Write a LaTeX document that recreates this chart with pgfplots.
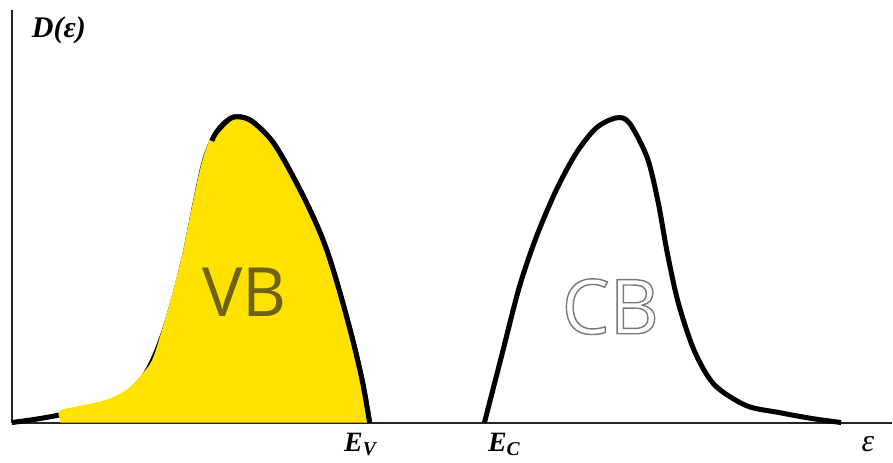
\documentclass[border=0pt]{standalone}
\usepackage{pgfplots}
\pgfplotsset{compat=1.18}
\usepackage{fontspec}
\setmainfont{Liberation Serif}
\newfontfamily\handfont{Open Sans}
\definecolor{vbyellow}{RGB}{255,226,0}
\definecolor{vbink}{RGB}{110,98,20}
\definecolor{cbink}{RGB}{120,120,120}
% outlined (hollow) lettering
\newcommand{\outlined}[1]{\special{pdf:code q 1 Tr 0.7 w}#1\special{pdf:code Q}}

\begin{document}
\begin{tikzpicture}
\begin{axis}[
  x=0.5pt, y=0.5pt,
  xmin=0, xmax=881, ymin=0, ymax=413,
  axis lines=left,
  axis line style={-, line width=1pt, black!85},
  ticks=none,
  clip=false,
]
% page extent
\path (axis cs:-12,-34) rectangle (axis cs:881,423);

% valence band outline (full)
\addplot[black, line width=2.5pt, smooth, tension=0.55] coordinates {
  (0,0) (28,4) (55,9) (88,16) (113,26) (135,51) (151,88) (163,128)
  (173,168) (183,218) (193,263) (205,291) (218,304) (228,306) (241,301)
  (261,281) (281,247) (301,207) (315,173) (328,131) (341,83) (351,40) (358,0)
};

% filled valence band
\addplot[fill=vbyellow, draw=none, smooth, tension=0.55] coordinates {
  (48,4) (48,12) (70,17) (95,23) (115,33) (128,46) (140,62) (150,92)
  (160,127) (170,166) (180,215) (190,260) (200,287) (212,300) (226,304)
  (240,299) (260,281) (280,248) (300,208) (314,174) (327,132) (340,84)
  (350,41) (356,4)
} \closedcycle;

% top and right flank of the valence band drawn over the fill
\addplot[black, line width=2.5pt, smooth, tension=0.55] coordinates {
  (200,282) (205,291) (218,304) (228,306) (241,301) (261,281) (281,247)
  (301,207) (315,173) (328,131) (341,83) (351,40) (358,0)
};

% conduction band
\addplot[black, line width=2.5pt, smooth, tension=0.5] coordinates {
  (473,0) (491,70) (508,136) (525,186) (545,233) (565,270) (585,295)
  (605,305) (618,300) (636,265) (647,220) (656,170) (667,120) (683,72)
  (703,38) (735,17) (768,10) (801,4) (830,0)
};

% labels
\node[font=\fontsize{15}{17}\selectfont\bfseries\itshape] at (axis cs:47,393) {D(ε)};
\node[font=\fontsize{14}{16}\selectfont\bfseries\itshape] at (axis cs:349,-22) {E\textsubscript{V}};
\node[font=\fontsize{14}{16}\selectfont\bfseries\itshape] at (axis cs:493,-22) {E\textsubscript{C}};
\node[font=\fontsize{16}{18}\selectfont\itshape] at (axis cs:857,-22) {ε};

% band names
\node[font=\handfont\fontsize{34}{36}\selectfont, text=vbink] at (axis cs:233,130) {VB};
\node[font=\handfont\fontsize{38}{40}\selectfont, text=cbink] at (axis cs:599,116) {\outlined{CB}};
\end{axis}
\end{tikzpicture}
\end{document}
